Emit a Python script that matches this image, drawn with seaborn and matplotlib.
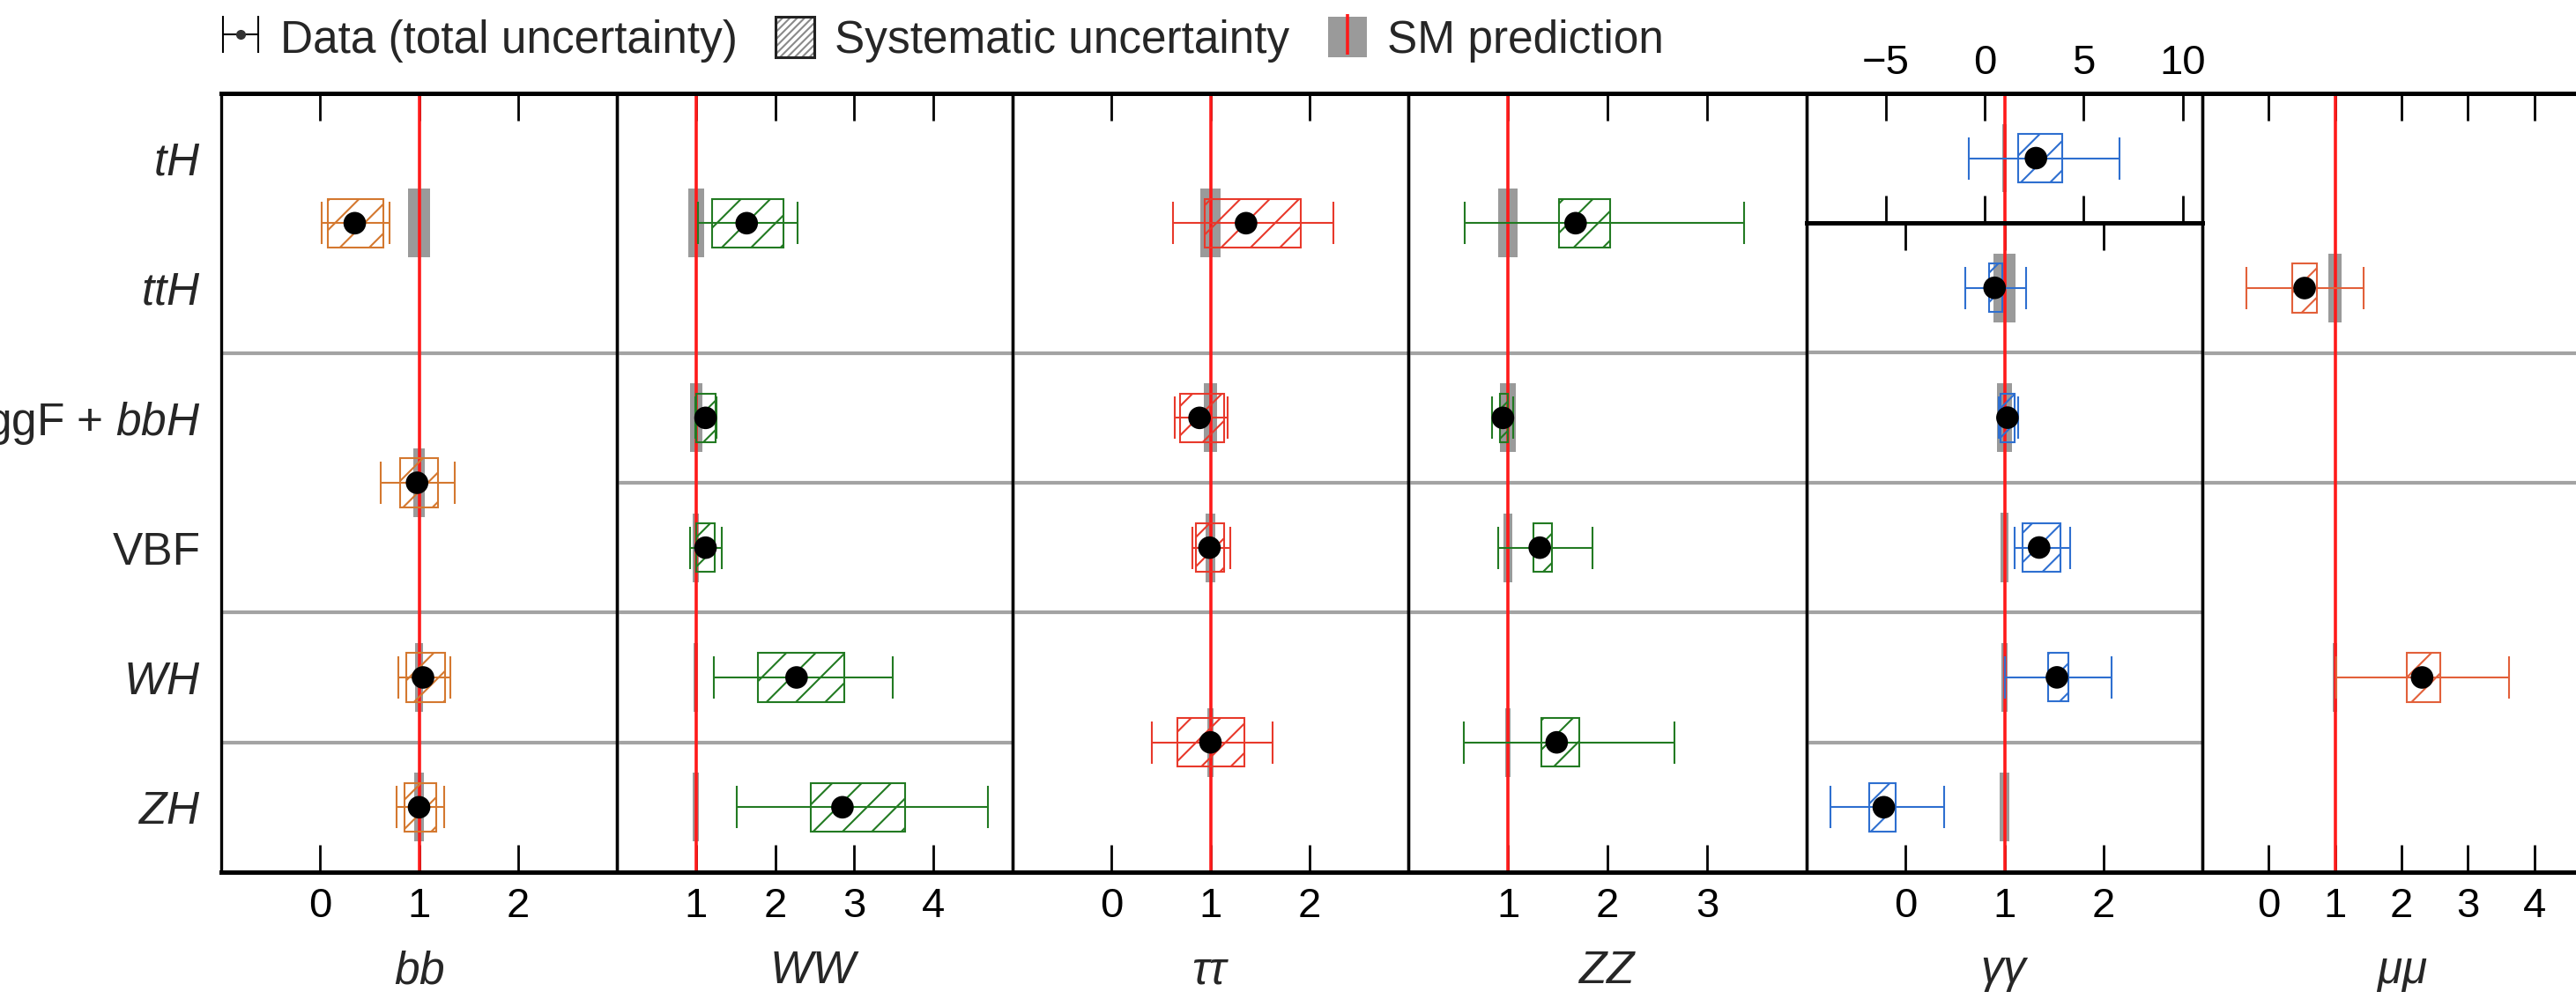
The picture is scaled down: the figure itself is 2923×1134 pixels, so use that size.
import numpy as np
import pandas as pd
import matplotlib
matplotlib.use("Agg")
import matplotlib.pyplot as plt
import seaborn as sns
from matplotlib.patches import Patch
from matplotlib.lines import Line2D
from matplotlib.collections import LineCollection
from matplotlib.container import ErrorbarContainer
from matplotlib.legend_handler import HandlerTuple, HandlerErrorbar

# ---------------- data ----------------
channels = ["bb", "WW", "tautau", "ZZ", "gamgam", "mumu"]
channel_labels = ["$bb$", "$WW$", r"$\tau\tau$", "$ZZ$", r"$\gamma\gamma$", r"$\mu\mu$"]
channel_colors = ["#D4782F", "#227A22", "#E8392B", "#227A22", "#2E6FD0", "#E2603A"]

rows = ["tH", "ttH", "ggF", "VBF", "WH", "ZH"]
row_labels = ["$tH$", "$ttH$", "ggF + $bbH$", "VBF", "$WH$", "$ZH$"]

meas_channel = ["bb", "bb", "bb", "bb",
                "WW", "WW", "WW", "WW", "WW",
                "tautau", "tautau", "tautau", "tautau",
                "ZZ", "ZZ", "ZZ", "ZZ",
                "gamgam", "gamgam", "gamgam", "gamgam", "gamgam", "gamgam",
                "mumu", "mumu"]
meas_process = ["tH+ttH", "ggF+VBF", "WH", "ZH",
                "tH+ttH", "ggF", "VBF", "WH", "ZH",
                "tH+ttH", "ggF", "VBF", "WH+ZH",
                "tH+ttH", "ggF", "VBF", "WH+ZH",
                "tH", "ttH", "ggF", "VBF", "WH", "ZH",
                "ttH", "VBF+WH+ZH"]
mu = [0.35, 0.98, 1.04, 1.00,
      1.64, 1.12, 1.12, 2.27, 2.85,
      1.36, 0.89, 0.99, 1.00,
      1.68, 0.95, 1.32, 1.49,
      2.59, 0.90, 1.03, 1.35, 1.53, -0.22,
      0.54, 2.31]
syst_lo = [0.08, 0.81, 0.87, 0.85,
           1.20, 1.00, 1.00, 1.78, 2.45,
           0.94, 0.69, 0.85, 0.67,
           1.51, 0.92, 1.26, 1.34,
           1.67, 0.84, 0.96, 1.18, 1.44, -0.37,
           0.36, 2.08]
syst_hi = [0.64, 1.19, 1.26, 1.17,
           2.11, 1.25, 1.24, 2.87, 3.64,
           1.91, 1.14, 1.14, 1.34,
           2.03, 1.00, 1.44, 1.72,
           3.92, 0.98, 1.10, 1.57, 1.65, -0.10,
           0.73, 2.59]
tot_lo = [0.02, 0.61, 0.79, 0.77,
          1.02, 0.99, 0.92, 1.23, 1.52,
          0.62, 0.64, 0.82, 0.41,
          0.57, 0.84, 0.90, 0.56,
          -0.79, 0.60, 0.94, 1.10, 1.00, -0.76,
          -0.34, 1.02]
tot_hi = [0.70, 1.36, 1.32, 1.25,
          2.28, 1.26, 1.32, 3.48, 4.69,
          2.24, 1.17, 1.20, 1.63,
          3.37, 1.05, 1.85, 2.67,
          6.80, 1.22, 1.14, 1.66, 2.08, 0.39,
          1.43, 3.62]
sm_unc = [0.11, 0.06, 0.04, 0.045,
          0.10, 0.075, 0.04, 0.03, 0.04,
          0.10, 0.07, 0.05, 0.03,
          0.10, 0.08, 0.04, 0.03,
          0.10, 0.11, 0.08, 0.04, 0.03, 0.05,
          0.10, 0.03]

panel_xlim = {"bb": (-1, 3), "WW": (0, 5), "tautau": (-1, 3), "ZZ": (0, 4),
              "gamgam": (-1, 3), "mumu": (-1, 5)}
panel_xticks = {"bb": [0, 1, 2], "WW": [1, 2, 3, 4], "tautau": [0, 1, 2],
                "ZZ": [1, 2, 3], "gamgam": [0, 1, 2], "mumu": [0, 1, 2, 3, 4]}
tH_gamgam_xlim = (-9, 11)
tH_gamgam_xticks = [-5, 0, 5, 10]
# separator lines drawn below these rows, per channel
separators_after = {"bb": ["ttH", "VBF", "WH"],
                    "WW": ["ttH", "ggF", "VBF", "WH"],
                    "tautau": ["ttH", "ggF", "VBF"],
                    "ZZ": ["ttH", "ggF", "VBF"],
                    "gamgam": ["ttH", "ggF", "VBF", "WH"],
                    "mumu": ["ttH", "ggF"]}

legend_labels = ["Data (total uncertainty)", "Systematic uncertainty", "SM prediction"]

# ---------------- style ----------------
sns.set_theme(style="white")
plt.rcParams["font.family"] = ["Liberation Sans", "DejaVu Sans"]
plt.rcParams["mathtext.fontset"] = "custom"
plt.rcParams["mathtext.rm"] = "Liberation Sans"
plt.rcParams["mathtext.it"] = "Liberation Sans:italic"
plt.rcParams["mathtext.bf"] = "Liberation Sans:bold"
plt.rcParams["hatch.linewidth"] = 1.5
plt.rcParams["axes.unicode_minus"] = True

row_index = {r: i for i, r in enumerate(rows)}
df = pd.DataFrame({"channel": meas_channel, "process": meas_process, "mu": mu,
                   "syst_lo": syst_lo, "syst_hi": syst_hi,
                   "tot_lo": tot_lo, "tot_hi": tot_hi, "sm": sm_unc})
df["pos"] = [np.mean([row_index[p] for p in proc.split("+")]) for proc in df["process"]]

W, H = 2923, 1134
fig = plt.figure(figsize=(W / 100, H / 100), dpi=100)

x_edges = [251, 700, 1149, 1598, 2050, 2499, 2951]
top_px, bot_px, sub_px = 106, 990, 253


def rect(x0, x1, y0, y1):
    return [x0 / W, 1 - y1 / H, (x1 - x0) / W, (y1 - y0) / H]


BOX_H, GRAY_H, CAP = 0.374, 0.53, 17
TICK_FS, LABEL_FS = 34, 37


def draw_measurements(ax, d, color):
    # SM band and SM line
    ax.barh(d["pos"], 2 * d["sm"], left=1 - d["sm"], height=GRAY_H,
            color="#9a9a9a", linewidth=0, zorder=1)
    ax.axvline(1, color="#ff1a1a", lw=2.6, zorder=2)
    # total uncertainty
    ax.errorbar(d["mu"], d["pos"],
                xerr=[d["mu"] - d["tot_lo"], d["tot_hi"] - d["mu"]],
                fmt="none", ecolor=color, elinewidth=1.5, capsize=CAP,
                capthick=1.5, zorder=3)
    # systematic uncertainty
    ax.barh(d["pos"], d["syst_hi"] - d["syst_lo"], left=d["syst_lo"],
            height=BOX_H, facecolor="none", edgecolor=color, hatch="/",
            linewidth=1.5, zorder=4)
    # central values
    sns.scatterplot(data=d, x="mu", y="pos", ax=ax, color="black", s=340,
                    edgecolor="none", zorder=6, legend=False)


def style_axis(ax, xlim, xticks, ylim):
    ax.set_xlim(*xlim)
    ax.set_ylim(*ylim)
    ax.set_xticks(xticks)
    ax.set_xticklabels([f"{t:g}".replace("-", "\u2212") for t in xticks])
    ax.tick_params(axis="x", direction="in", length=22, width=2, top=True,
                   bottom=True, labelsize=TICK_FS, pad=12, colors="black")
    ax.tick_params(axis="y", left=False, right=False, labelleft=False)
    ax.set_xlabel("")
    ax.set_ylabel("")
    for s in ["left", "right"]:
        ax.spines[s].set_linewidth(2.4)
        ax.spines[s].set_color("black")
    for s in ["top", "bottom"]:
        ax.spines[s].set_linewidth(3.6)
        ax.spines[s].set_color("black")
    ax.set_facecolor("none")


axes = {}
for i, ch in enumerate(channels):
    color = channel_colors[i]
    y0 = sub_px if ch == "gamgam" else top_px
    ylim = (5.5, 0.5) if ch == "gamgam" else (5.5, -0.5)
    ax = fig.add_axes(rect(x_edges[i], x_edges[i + 1], y0, bot_px))
    axes[ch] = ax
    d = df[df["channel"] == ch]
    if ch == "gamgam":
        d = d[d["process"] != "tH"]
    draw_measurements(ax, d, color)
    for r in separators_after[ch]:
        ax.axhline(row_index[r] + 0.5, color="#a3a3a3", lw=3, zorder=0.5)
    style_axis(ax, panel_xlim[ch], panel_xticks[ch], ylim)
    ax.set_xlabel(channel_labels[i], fontsize=LABEL_FS)
    ax.xaxis.set_label_coords(0.5, -(1103 - bot_px) / (bot_px - y0))
    ax.xaxis.label.set_va("center")

# tH -> gamma gamma sub-panel with its own scale
ax_sub = fig.add_axes(rect(x_edges[4], x_edges[5], top_px, sub_px))
d_sub = df[(df["channel"] == "gamgam") & (df["process"] == "tH")]
draw_measurements(ax_sub, d_sub, channel_colors[4])
style_axis(ax_sub, tH_gamgam_xlim, tH_gamgam_xticks, (0.5, -0.5))
ax_sub.tick_params(axis="x", labeltop=True, labelbottom=False, pad=9)

# row labels on the left
ax_bb = axes["bb"]
ax_bb.set_yticks(range(len(rows)))
ax_bb.set_yticklabels(row_labels)
ax_bb.tick_params(axis="y", left=True, length=0, labelleft=True,
                  labelsize=LABEL_FS, pad=17)

# ---------------- legend ----------------
data_line = Line2D([], [], marker="o", color="#333333", ms=7, linestyle="none")
cap_line = Line2D([], [], marker="|", color="black", ms=30, mew=1.5, linestyle="none")
bar_coll = LineCollection([], colors="black", linewidths=1.5)
data_handle = ErrorbarContainer((data_line, (cap_line,), (bar_coll,)),
                                has_xerr=True, has_yerr=False)
syst_handle = (Patch(facecolor="white", edgecolor="#8a8a8a", hatch="////", lw=0),
               Patch(facecolor="none", edgecolor="#222222", lw=2.2))
sm_handle = (Patch(facecolor="#9a9a9a", edgecolor="none"),
             Line2D([], [], color="#ff1a1a", marker="|", ms=33, mew=2.6,
                    linestyle="none"))
fig.legend([data_handle, syst_handle, sm_handle], legend_labels,
           loc="center left", bbox_to_anchor=(251 / W, 1 - 45 / H),
           ncol=3, frameon=False, fontsize=37, handlelength=0.85,
           handleheight=1.0, handletextpad=0.45, columnspacing=0.85,
           borderpad=0, borderaxespad=0,
           handler_map={ErrorbarContainer: HandlerErrorbar(xerr_size=0.39),
                        tuple: HandlerTuple(ndivide=1, pad=0)})

fig.savefig("out.png", dpi=100)
